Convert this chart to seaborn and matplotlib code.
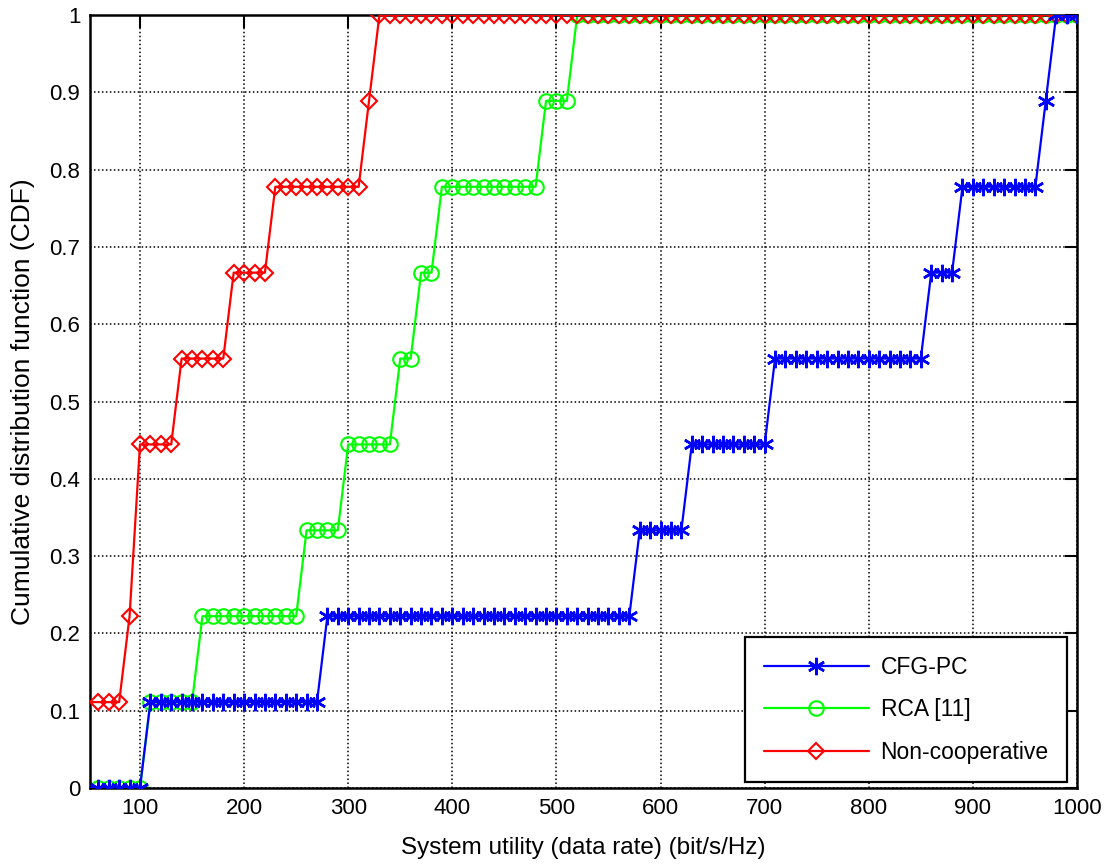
import numpy as np
import pandas as pd
import matplotlib
matplotlib.use("Agg")
import matplotlib.pyplot as plt
import seaborn as sns

# System utility grid (bit/s/Hz)
utility = [50, 60, 70, 80, 90, 100, 110, 120, 130, 140, 150, 160, 170, 180, 190, 200,
           210, 220, 230, 240, 250, 260, 270, 280, 290, 300, 310, 320, 330, 340, 350,
           360, 370, 380, 390, 400, 410, 420, 430, 440, 450, 460, 470, 480, 490, 500,
           510, 520, 530, 540, 550, 560, 570, 580, 590, 600, 610, 620, 630, 640, 650,
           660, 670, 680, 690, 700, 710, 720, 730, 740, 750, 760, 770, 780, 790, 800,
           810, 820, 830, 840, 850, 860, 870, 880, 890, 900, 910, 920, 930, 940, 950,
           960, 970, 980, 990, 1000]

# CDF values, in ninths (9 = 1.0)
cfg_pc = [0, 0, 0, 0, 0, 0,
          1, 1, 1, 1, 1, 1, 1, 1, 1, 1, 1, 1, 1, 1, 1, 1, 1,
          2, 2, 2, 2, 2, 2, 2, 2, 2, 2, 2, 2, 2, 2, 2, 2, 2, 2, 2, 2, 2, 2, 2, 2, 2, 2, 2, 2, 2, 2,
          3, 3, 3, 3, 3,
          4, 4, 4, 4, 4, 4, 4, 4,
          5, 5, 5, 5, 5, 5, 5, 5, 5, 5, 5, 5, 5, 5, 5,
          6, 6, 6,
          7, 7, 7, 7, 7, 7, 7, 7,
          8,
          9, 9, 9]

rca = [0, 0, 0, 0, 0, 0,
       1, 1, 1, 1, 1,
       2, 2, 2, 2, 2, 2, 2, 2, 2, 2,
       3, 3, 3, 3,
       4, 4, 4, 4, 4,
       5, 5,
       6, 6,
       7, 7, 7, 7, 7, 7, 7, 7, 7, 7,
       8, 8, 8,
       9, 9, 9, 9, 9, 9, 9, 9, 9, 9, 9, 9, 9, 9, 9, 9, 9, 9, 9, 9, 9, 9, 9, 9, 9, 9, 9, 9, 9, 9,
       9, 9, 9, 9, 9, 9, 9, 9, 9, 9, 9, 9, 9, 9, 9, 9, 9, 9, 9]

non_coop = [1, 1, 1, 1,
            2,
            4, 4, 4, 4,
            5, 5, 5, 5, 5,
            6, 6, 6, 6,
            7, 7, 7, 7, 7, 7, 7, 7, 7,
            8,
            9, 9, 9, 9, 9, 9, 9, 9, 9, 9, 9, 9, 9, 9, 9, 9, 9, 9, 9, 9, 9, 9, 9, 9, 9, 9, 9, 9, 9, 9,
            9, 9, 9, 9, 9, 9, 9, 9, 9, 9, 9, 9, 9, 9, 9, 9, 9, 9, 9, 9, 9, 9, 9, 9, 9, 9, 9, 9, 9, 9,
            9, 9, 9, 9, 9, 9, 9, 9]

xticks = [100, 200, 300, 400, 500, 600, 700, 800, 900, 1000]
yticks = [0, 0.1, 0.2, 0.3, 0.4, 0.5, 0.6, 0.7, 0.8, 0.9, 1]
ytick_labels = ["0", "0.1", "0.2", "0.3", "0.4", "0.5", "0.6", "0.7", "0.8", "0.9", "1"]

df = pd.DataFrame({
    "utility": utility,
    "CFG-PC": np.array(cfg_pc) / 9,
    "RCA [11]": np.array(rca) / 9,
    "Non-cooperative": np.array(non_coop) / 9,
})

sns.set_style("white")
plt.rcParams["font.family"] = ["Liberation Sans", "DejaVu Sans"]
plt.rcParams["text.color"] = "black"
plt.rcParams["axes.labelcolor"] = "black"

fig = plt.figure(figsize=(11.13, 8.64), dpi=100)
ax = fig.add_axes([90 / 1113, 76 / 864, 987 / 1113, 773 / 864])

# name, color, marker, size, edge width, zorder
styles = [
    ("CFG-PC", "#0000ff", (6, 2, 0), 12.5, 1.8, 4),
    ("RCA [11]", "#00ff00", "o", 10.5, 1.5, 2),
    ("Non-cooperative", "#ff0000", "D", 8, 1.5, 3),
]
for name, c, m, ms, mew, z in styles:
    sns.lineplot(data=df, x="utility", y=name, ax=ax, color=c, label=name,
                 marker=m, markersize=ms, markevery=slice(1, None),
                 markerfacecolor="none", markeredgecolor=c, markeredgewidth=mew,
                 linewidth=1.6, zorder=z)

ax.set_xlim(52, 1000)
ax.set_ylim(0, 1)
ax.set_xticks(xticks)
ax.set_xticklabels([str(t) for t in xticks])
ax.set_yticks(yticks)
ax.set_yticklabels(ytick_labels)

ax.grid(True, color="black", linestyle=(0, (1, 1.6)), linewidth=1.1)
ax.tick_params(direction="in", length=9, width=1.5, top=True, right=True,
               labelsize=16, colors="black", pad=7)
for s in ax.spines.values():
    s.set_visible(True)
    s.set_color("black")
    s.set_linewidth(1.8)

ax.set_xlabel("System utility (data rate) (bit/s/Hz)", fontsize=17.5, labelpad=13, color="black")
ax.set_ylabel("Cumulative distribution function (CDF)", fontsize=19, labelpad=10, color="black")

leg = ax.legend(loc="lower right", bbox_to_anchor=(1 - 10 / 987, 6 / 773),
                borderaxespad=0, fontsize=16.5,
                frameon=True, fancybox=False, framealpha=1, edgecolor="black",
                handlelength=4.6, labelspacing=0.85, borderpad=0.8, handletextpad=0.5)
leg.get_frame().set_linewidth(1.6)
for t in leg.get_texts():
    t.set_color("black")

plt.savefig("out.png", dpi=100)
